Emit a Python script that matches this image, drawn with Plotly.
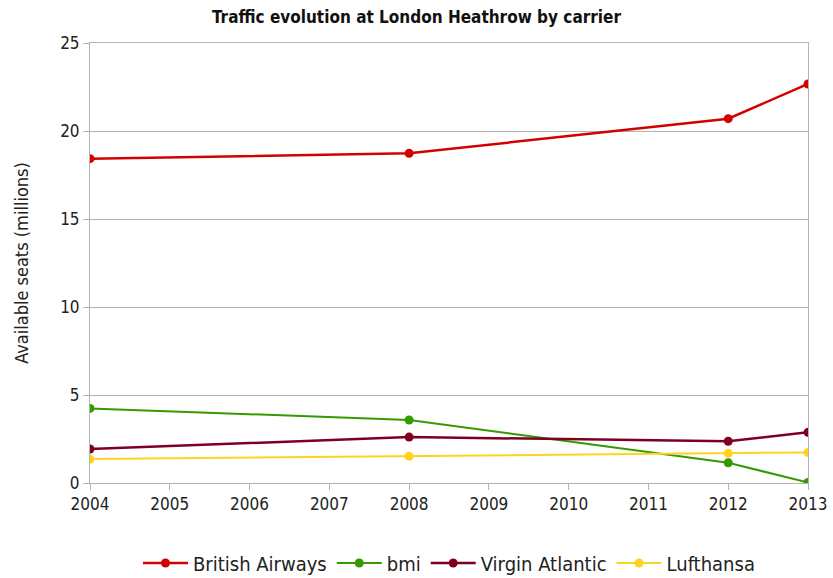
import plotly.graph_objects as go

years = [2004, 2008, 2012, 2013]
british_airways = [18.43, 18.73, 20.7, 22.67]
bmi = [4.24, 3.58, 1.15, 0.03]
virgin_atlantic = [1.93, 2.61, 2.37, 2.88]
lufthansa = [1.36, 1.52, 1.69, 1.74]

series = [
    ("British Airways", british_airways, "#d40000", 2.5),
    ("bmi", bmi, "#339a00", 2),
    ("Virgin Atlantic", virgin_atlantic, "#7e0021", 2.5),
    ("Lufthansa", lufthansa, "#ffd320", 2),
]

FONT = "Liberation Sans Narrow, DejaVu Sans Condensed, Arial Narrow, sans-serif"

fig = go.Figure()
for name, vals, color, w in series:
    fig.add_trace(go.Scatter(
        x=years, y=vals, name=name, mode="lines+markers",
        line=dict(color=color, width=w),
        marker=dict(color=color, size=9, symbol="circle"),
    ))

fig.update_layout(
    width=833, height=578,
    margin=dict(l=90, r=25, t=43, b=95, autoexpand=False),
    paper_bgcolor="white", plot_bgcolor="white",
    font=dict(family=FONT, size=17, color="#222"),
    title=dict(text="<b>Traffic evolution at London Heathrow by carrier</b>",
               x=0.5, xanchor="center", y=0.97, yanchor="middle",
               font=dict(family=FONT, size=17, color="#111")),
    showlegend=True,
    legend=dict(orientation="h", x=0.5, xanchor="center",
                yref="container", y=0.026, yanchor="middle",
                font=dict(family=FONT, size=20, color="#222"), itemwidth=45),
)
fig.update_xaxes(
    range=[2004, 2013], tickmode="linear", tick0=2004, dtick=1,
    showgrid=False, showline=True, linecolor="#b3b3b3", linewidth=1,
    mirror=True, ticks="outside", ticklen=6, tickcolor="#b3b3b3",
    tickfont=dict(family=FONT, size=17, color="#222"), zeroline=False,
)
fig.update_yaxes(
    range=[0, 25], tickmode="linear", tick0=0, dtick=5,
    showgrid=True, gridcolor="#b3b3b3", gridwidth=1,
    showline=True, linecolor="#b3b3b3", linewidth=1, mirror=True,
    ticks="outside", ticklen=6, tickcolor="#b3b3b3",
    tickfont=dict(family=FONT, size=17, color="#222"), zeroline=False,
    title=dict(text="Available seats (millions)", standoff=26,
               font=dict(family=FONT, size=18, color="#222")),
)

fig.write_html("out.html")
